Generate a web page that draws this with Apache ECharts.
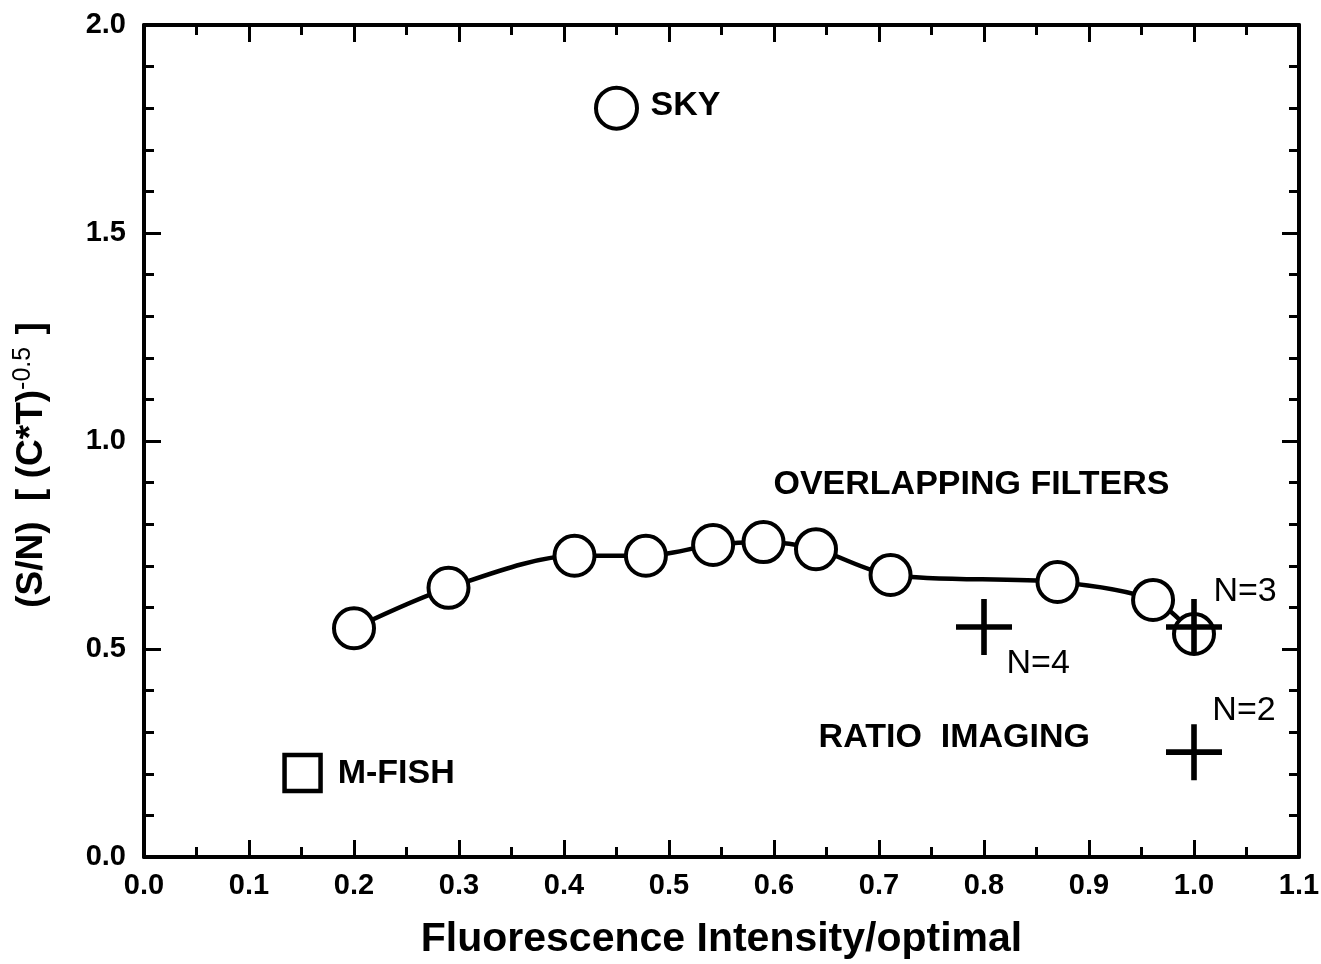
<!DOCTYPE html>
<html>
<head>
<meta charset="utf-8">
<script src="https://cdn.jsdelivr.net/npm/echarts@6/dist/echarts.min.js"></script>
<style>
html,body{margin:0;padding:0;background:#fff;}
#chart{width:1321px;height:964px;}
</style>
</head>
<body>
<div id="chart"></div>
<script>
// Overlapping filters curve
const filterX = [0.20, 0.29, 0.41, 0.478, 0.542, 0.59, 0.64, 0.711, 0.87, 0.961, 1.0];
const filterY = [0.55, 0.647, 0.724, 0.724, 0.75, 0.757, 0.74, 0.678, 0.661, 0.618, 0.536];
// SKY point
const skyX = [0.45];
const skyY = [1.80];
// M-FISH point
const mfishX = [0.151];
const mfishY = [0.202];
// Ratio imaging points
const ratioX = [0.80, 1.0, 1.0];
const ratioY = [0.553, 0.553, 0.252];
const ratioText = ['N=4', 'N=3', 'N=2'];
const ratioTextX = [0.821, 1.018, 1.017];
const ratioTextY = [0.466, 0.639, 0.353];
// Bold annotations (anchor = left edge of text, data coords)
const noteText = ['SKY', 'OVERLAPPING FILTERS', 'RATIO  IMAGING', 'M-FISH'];
const noteX = [0.482, 0.599, 0.642, 0.184];
const noteY = [1.805, 0.894, 0.286, 0.200];
// Axes
const xMin = 0, xMax = 1.1, xStep = 0.1;
const yMin = 0, yMax = 2.0, yStep = 0.5;
const xTitle = 'Fluorescence Intensity/optimal';

const FONT = 'Liberation Sans, Arial, Helvetica, sans-serif';
const zip = (a, b) => a.map((v, i) => [v, b[i]]);

const axisCommon = {
  axisLine: {show: true, onZero: false, lineStyle: {color: '#000', width: 4}},
  axisTick: {show: true, inside: true, length: 17, lineStyle: {color: '#000', width: 3}},
  minorTick: {show: true, length: 10, lineStyle: {color: '#000', width: 3}},
  splitLine: {show: false},
  minorSplitLine: {show: false}
};

const chart = echarts.init(document.getElementById('chart'), null, {renderer: 'canvas'});
chart.setOption({
  backgroundColor: '#fff',
  animation: false,
  grid: {left: 144, right: 22, top: 25, bottom: 107, containLabel: false, outerBoundsMode: 'none'},
  xAxis: [
    Object.assign({}, axisCommon, {
      type: 'value', position: 'bottom', min: xMin, max: xMax, interval: xStep,
      minorTick: Object.assign({}, axisCommon.minorTick, {splitNumber: 2}),
      axisLabel: {margin: 14, color: '#000', fontFamily: FONT, fontWeight: 'bold', fontSize: 29,
        formatter: v => v.toFixed(1)},
      name: xTitle, nameLocation: 'middle', nameGap: 62,
      nameTextStyle: {color: '#000', fontFamily: FONT, fontWeight: 'bold', fontSize: 41}
    }),
    Object.assign({}, axisCommon, {
      type: 'value', position: 'top', min: xMin, max: xMax, interval: xStep,
      minorTick: Object.assign({}, axisCommon.minorTick, {splitNumber: 2}),
      axisLabel: {show: false}
    })
  ],
  yAxis: [
    Object.assign({}, axisCommon, {
      type: 'value', position: 'left', min: yMin, max: yMax, interval: yStep,
      minorTick: Object.assign({}, axisCommon.minorTick, {splitNumber: 5}),
      axisLabel: {margin: 18, color: '#000', fontFamily: FONT, fontWeight: 'bold', fontSize: 29,
        formatter: v => v.toFixed(1)},
      name: '(S/N)  [ (C*T){sup|-0.5} ]', nameLocation: 'middle', nameGap: 92,
      nameTextStyle: {color: '#000', fontFamily: FONT, fontWeight: 'bold', fontSize: 37,
        padding: [0, 48, 0, 0],
        rich: {sup: {fontFamily: FONT, fontWeight: 'normal', fontSize: 25, color: '#000',
          padding: [0, 2, 16, 0]}}}
    }),
    Object.assign({}, axisCommon, {
      type: 'value', position: 'right', min: yMin, max: yMax, interval: yStep,
      minorTick: Object.assign({}, axisCommon.minorTick, {splitNumber: 5}),
      axisLabel: {show: false}
    })
  ],
  series: [
    {
      name: 'Overlapping filters', type: 'line', data: zip(filterX, filterY),
      smooth: 0.3, symbol: 'circle', symbolSize: 40, z: 3,
      lineStyle: {color: '#000', width: 4.5},
      itemStyle: {color: '#fff', borderColor: '#000', borderWidth: 4, opacity: 1}
    },
    {
      name: 'SKY', type: 'scatter', data: zip(skyX, skyY),
      symbol: 'circle', symbolSize: 41, z: 3,
      itemStyle: {color: '#fff', borderColor: '#000', borderWidth: 4, opacity: 1}
    },
    {
      name: 'M-FISH', type: 'scatter', data: zip(mfishX, mfishY),
      symbol: 'rect', symbolSize: 36, z: 3,
      itemStyle: {color: '#fff', borderColor: '#000', borderWidth: 4.5, opacity: 1}
    },
    {
      name: 'Ratio imaging', type: 'scatter', data: zip(ratioX, ratioY),
      symbol: 'path://M-1,-0.1 L1,-0.1 L1,0.1 L-1,0.1 Z M-0.1,-1 L0.1,-1 L0.1,1 L-0.1,1 Z',
      symbolSize: 56, z: 5,
      itemStyle: {color: '#000', borderWidth: 0, opacity: 1}
    },
    {
      name: 'Ratio labels', type: 'scatter', silent: true, z: 6,
      data: ratioText.map((t, i) => ({name: t, value: [ratioTextX[i], ratioTextY[i]]})),
      symbolSize: 1, itemStyle: {color: 'rgba(0,0,0,0)', opacity: 1},
      label: {show: true, position: 'right', distance: 0, formatter: p => p.name, opacity: 1,
        color: '#000', fontFamily: FONT, fontWeight: 'normal', fontSize: 34}
    },
    {
      name: 'Notes', type: 'scatter', silent: true, z: 6,
      data: noteText.map((t, i) => ({name: t, value: [noteX[i], noteY[i]]})),
      symbolSize: 1, itemStyle: {color: 'rgba(0,0,0,0)', opacity: 1},
      label: {show: true, position: 'right', distance: 0, formatter: p => p.name, opacity: 1,
        color: '#000', fontFamily: FONT, fontWeight: 'bold', fontSize: 34}
    }
  ]
});
</script>
</body>
</html>
